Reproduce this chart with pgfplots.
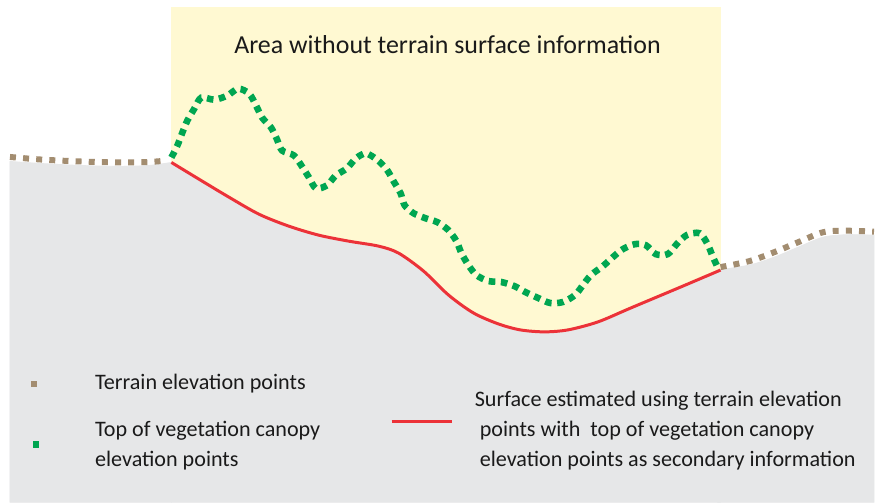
\documentclass[border=0pt]{standalone}
\usepackage{pgfplots}
\pgfplotsset{compat=1.18}
\usepackage{pgfplotstable}
\usepackage{fontspec}
\setmainfont{Carlito}

\definecolor{ground}{HTML}{E6E7E8}
\definecolor{nodata}{HTML}{FFF9D2}
\definecolor{canopy}{HTML}{00A651}
\definecolor{terrain}{HTML}{A38D70}
\definecolor{estim}{HTML}{EC3238}
\definecolor{txt}{HTML}{1A1A1A}

% all tables in pixel coordinates of the figure (x right, y down)
\pgfplotsset{table/pix/.style={x=px, y expr=504-\thisrow{py}}}

\pgfplotstableread{
px py
0 0
877 0
877 504
0 504
}\canvas

\pgfplotstableread{
px py
172 7
723 7
723 340
172 340
}\gapbox

\pgfplotstableread{
px py
10 162
40 164
80 166
120 167
150 166
172 163
}\groundleft

\pgfplotstableread{
px py
720 271
752 266
777 258
801 248
826 238
850 235.5
877 236
}\groundright

\pgfplotstableread{
px py
10 157.5
40 160
80 162
120 163
150 162.5
168 161
}\ptsleft

\pgfplotstableread{
px py
723 268
752 262
777 253
801 243
826 233
850 231.5
877 232.5
}\ptsright

\pgfplotstableread{
px py
172 163
200 180
230 198
260 215
290 227
320 236
350 242
380 247
400 254
425 272
450 296
475 314
500 325
522 331
546 333
570 331
600 323
633 309
683 288
723 271
}\surface

\pgfplotstableread{
px py
172 158
178 146
183 133
188 121
195 109
202 98
215 100
228 96
239 89
250 94
257 106
263 118
272 128
278 140
283 151
295 156
303 167
310 178
317 189
328 186
337 176
348 169
357 159
367 154
378 160
388 170
395 182
402 194
406 206
415 214
427 219
439 223
450 231
458 242
463 254
470 266
478 276
490 282
503 283
516 287
527 293
540 299
552 304
565 303
577 296
585 286
593 276
605 267
615 258
625 250
637 245
648 246
658 255
670 255
679 245
689 236
702 234
710 245
715 257
720 268
}\canopypts

\begin{document}
\begin{tikzpicture}
\begin{axis}[
  width=438.5pt, height=252pt, scale only axis,
  xmin=0, xmax=877, ymin=0, ymax=504,
  hide axis, clip=false,
]
\addplot[fill=white, draw=none] table[pix]{\canvas} -- cycle;
\addplot[fill=nodata, draw=none] table[pix]{\gapbox} -- cycle;
% ground
\addplot[fill=ground, draw=ground, line width=0.4pt, smooth] table[pix]{\groundleft} \closedcycle;
\addplot[fill=ground, draw=ground, line width=0.4pt, smooth] table[pix]{\groundright} \closedcycle;
\addplot[fill=ground, draw=ground, line width=0.4pt, smooth] table[pix]{\surface} \closedcycle;
% estimated surface
\addplot[estim, line width=1.5pt, smooth] table[pix]{\surface};
% terrain and canopy points
\addplot[terrain, line width=3pt, dash pattern=on 3pt off 3.6pt, smooth] table[pix]{\ptsleft};
\addplot[terrain, line width=3pt, dash pattern=on 3pt off 3.6pt, smooth] table[pix]{\ptsright};
\addplot[canopy, line width=3.3pt, dash pattern=on 3.3pt off 2.8pt, smooth] table[pix]{\canopypts};

\node[txt, inner sep=0pt, font=\fontsize{13}{15}\selectfont] at (axis cs:449,459) {Area without terrain surface information};

% legend
\addplot[only marks, mark=square*, mark size=1.3pt, terrain] coordinates {(34,119)};
\addplot[only marks, mark=square*, mark size=1.3pt, canopy] coordinates {(36,58)};
\addplot[estim, line width=1.3pt] coordinates {(393,81) (454,81)};
\begin{scope}[every node/.style={txt, inner sep=0pt, anchor=west, align=left, font=\fontsize{11.1}{15.2}\selectfont}]
\node at (axis cs:95,119) {Terrain elevation points};
\node at (axis cs:95,57) {Top of vegetation canopy\\elevation points};
\node at (axis cs:476,72) {Surface estimated using terrain elevation\\\hspace{2.5pt}points with\ \ top of vegetation canopy\\\hspace{2.5pt}elevation points as secondary information};
\end{scope}
\end{axis}
\end{tikzpicture}
\end{document}
